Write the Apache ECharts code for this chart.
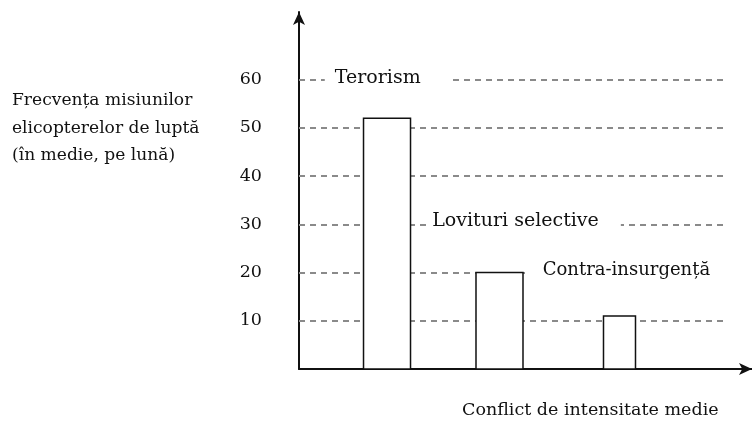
<!DOCTYPE html>
<html><head><meta charset="utf-8">
<script src="https://cdn.jsdelivr.net/npm/echarts@6/dist/echarts.min.js"></script>
<style>html,body{margin:0;padding:0;background:#fff}#c{width:752px;height:421px}</style>
</head><body><div id="c"></div>
<script>
const categories = ['Terorism', 'Lovituri selective', 'Contra-insurgen\u021B\u0103'];
const intensity = [19.43, 44.26, 70.75];
const frequency = [52, 20, 11];
const yTicks = [10, 20, 30, 40, 50, 60];
const yTitle = 'Frecven\u021Ba misiunilor\nelicopterelor de lupt\u0103\n(\u00EEn medie, pe lun\u0103)';
const xTitle = 'Conflict de intensitate medie';

const FONT = 'DejaVu Serif';
const barWidths = [47, 47, 32];
const labelPos = [[-38, -39], [-49, -51], [-77, -45]];
const labelPad = [[2, 30, 2, 10], [2, 22, 2, 6], [4, 26, 6, 17]];
const labelSize = [19, 19, 18];
const GRID_END = 94.6;

const chart = echarts.init(document.getElementById('c'), null, {renderer: 'canvas'});

chart.setOption({
  animation: false,
  backgroundColor: '#fff',
  title: [
    {text: yTitle, left: 12, top: 87, padding: 0, textStyle: {fontFamily: FONT, fontSize: 17.1, fontWeight: 'normal', color: '#111', lineHeight: 27.5}},
    {text: xTitle, left: 462, top: 399, padding: 0, textStyle: {fontFamily: FONT, fontSize: 17.5, fontWeight: 'normal', color: '#111', lineHeight: 22}}
  ],
  grid: {left: 299, right: 0, top: 12, bottom: 52},
  xAxis: {
    type: 'value', min: 0, max: 100,
    axisLine: {show: true, symbol: ['none', 'arrow'], symbolSize: [9, 13], lineStyle: {color: '#111', width: 2}},
    axisTick: {show: false}, axisLabel: {show: false}, splitLine: {show: false}
  },
  yAxis: {
    type: 'value', min: 0, max: 74, interval: 10,
    axisLine: {show: true, symbol: ['none', 'arrow'], symbolSize: [9, 13], lineStyle: {color: '#111', width: 2}},
    axisTick: {show: false}, splitLine: {show: false},
    axisLabel: {
      margin: 37, fontFamily: FONT, fontSize: 17.5, color: '#111',
      formatter: v => yTicks.indexOf(v) >= 0 ? String(v) : ''
    }
  },
  series: [{
    type: 'line', z: 1, data: [], silent: true,
    markLine: {
      z: 1, silent: true, symbol: ['none', 'none'], label: {show: false},
      lineStyle: {color: '#8a8a8a', width: 2, type: [6, 5]},
      emphasis: {disabled: true},
      data: yTicks.map(v => [{coord: [0, v]}, {coord: [GRID_END, v]}])
    }
  }, {
    type: 'custom', z: 3, silent: true,
    data: intensity.map((x, i) => [x, frequency[i]]),
    encode: {x: 0, y: 1},
    renderItem: function (params, api) {
      const i = params.dataIndex;
      const top = api.coord([api.value(0), api.value(1)]);
      const base = api.coord([api.value(0), 0]);
      const w = barWidths[i];
      return {
        type: 'rect',
        shape: {x: top[0] - w / 2, y: top[1], width: w, height: base[1] - top[1]},
        style: {fill: '#fff', stroke: '#111', lineWidth: 1.5},
        textContent: {
          type: 'text',
          style: {
            text: categories[i], fill: '#111', fontFamily: FONT, fontSize: labelSize[i],
            backgroundColor: '#fff', padding: labelPad[i], align: 'left', verticalAlign: 'middle'
          }
        },
        textConfig: {position: labelPos[i]}
      };
    }
  }]
});
</script></body></html>
